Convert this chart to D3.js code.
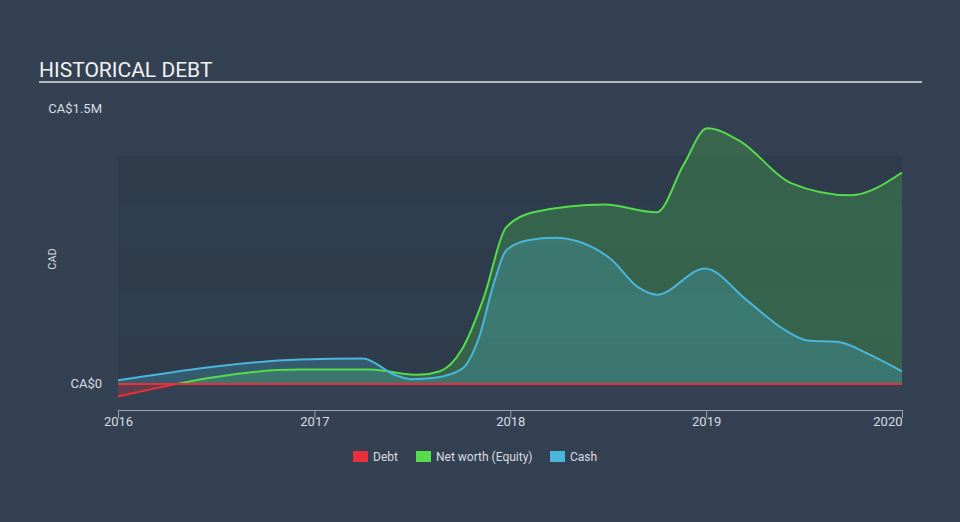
<!DOCTYPE html>
<html>

<head>
    <title>Historical Debt</title>
    <script src="https://d3js.org/d3.v7.min.js"></script>
    <style>
        body {
            margin: 0;
            background: #334152;
            font-family: Roboto, "Open Sans", sans-serif;
        }

        svg text {
            fill: #d9dde2;
        }
    </style>
</head>

<body>
    <div id="chart"></div>
    <script>
        // values in CA$ millions
        const debtDates = ["2016-01-01", "2020-01-01"];
        const debtValues = [0, 0];

        const equityDates = ["2016-01-01", "2016-12-05", "2017-04-14", "2017-07-13", "2017-08-23", "2017-10-03",
            "2017-11-13", "2017-12-24", "2018-02-13", "2018-06-26", "2018-10-01", "2018-11-20", "2019-01-03",
            "2019-03-05", "2019-06-08", "2019-09-27", "2020-01-01"];
        const equityValues = [-0.068, 0.079, 0.079, 0.05, 0.07, 0.19,
            0.476, 0.856, 0.94, 0.982, 0.94, 1.2, 1.40,
            1.33, 1.10, 1.033, 1.158];

        const cashDates = ["2016-01-01", "2016-12-05", "2017-04-01", "2017-06-02", "2017-07-03", "2017-08-13",
            "2017-10-03", "2017-11-02", "2017-12-03", "2017-12-24", "2018-02-03", "2018-03-25",
            "2018-07-05", "2018-08-27", "2018-10-01", "2018-12-30", "2019-03-18", "2019-05-29", "2019-07-09",
            "2019-09-07", "2019-10-29", "2020-01-01"];
        const cashValues = [0.02, 0.134, 0.14, 0.047, 0.026, 0.034,
            0.083, 0.24, 0.567, 0.73, 0.787, 0.80,
            0.69, 0.53, 0.489, 0.632, 0.458, 0.293, 0.238,
            0.229, 0.166, 0.069];

        const yearTicks = [2016, 2017, 2018, 2019, 2020];
        const bandValues = [0, 0.25, 0.5, 0.75, 1.0];
        const legendNames = ["Debt", "Net worth (Equity)", "Cash"];

        const colors = { debt: "#e8303a", equity: "#55dc4c", cash: "#4ab6db" };

        const width = 960, height = 522;
        const parse = d3.timeParse("%Y-%m-%d");
        const zip = (dates, values) => dates.map((d, i) => ({ date: parse(d), value: values[i] }));
        const debt = zip(debtDates, debtValues);
        const equity = zip(equityDates, equityValues);
        const cash = zip(cashDates, cashValues);

        const svg = d3.select("#chart")
            .append("svg")
            .attr("width", width)
            .attr("height", height);

        const x = d3.scaleTime()
            .domain([new Date(2016, 0, 1), new Date(2020, 0, 1)])
            .range([118, 902]);
        const y = d3.scaleLinear()
            .domain([0, 1.5])
            .range([384, 110]);

        // title
        svg.append("text")
            .attr("x", 39).attr("y", 77)
            .style("font-size", "21px")
            .style("fill", "#f2f2f2")
            .text("HISTORICAL DEBT");
        svg.append("line")
            .attr("x1", 39).attr("x2", 922)
            .attr("y1", 82).attr("y2", 82)
            .attr("stroke", "#b4b9bf").attr("stroke-width", 2);

        // striped background bands
        svg.selectAll("rect.band")
            .data(bandValues)
            .join("rect")
            .attr("class", "band")
            .attr("x", x.range()[0])
            .attr("width", x.range()[1] - x.range()[0])
            .attr("y", d => y(d + 0.25))
            .attr("height", d => y(d) - y(d + 0.25))
            .attr("fill", "#1c2634")
            .attr("fill-opacity", (d, i) => i % 2 === 0 ? 0.2 : 0.12);

        // clip paths for positive / negative equity
        const defs = svg.append("defs");
        defs.append("clipPath").attr("id", "above")
            .append("rect").attr("x", 0).attr("y", 0).attr("width", width).attr("height", y(0));
        defs.append("clipPath").attr("id", "below")
            .append("rect").attr("x", 0).attr("y", y(0)).attr("width", width).attr("height", height - y(0));

        const curve = d3.curveMonotoneX;
        const area = d3.area().x(d => x(d.date)).y0(y(0)).y1(d => y(d.value)).curve(curve);
        const line = d3.line().x(d => x(d.date)).y(d => y(d.value)).curve(curve);

        // net worth area
        svg.append("path").datum(equity)
            .attr("d", area).attr("clip-path", "url(#above)")
            .attr("fill", colors.equity).attr("fill-opacity", 0.24);
        svg.append("path").datum(equity)
            .attr("d", area).attr("clip-path", "url(#below)")
            .attr("fill", colors.debt).attr("fill-opacity", 0.25);

        // cash area
        svg.append("path").datum(cash)
            .attr("d", area)
            .attr("fill", colors.cash).attr("fill-opacity", 0.25);

        // lines
        svg.append("path").datum(equity)
            .attr("d", line).attr("clip-path", "url(#above)")
            .attr("fill", "none").attr("stroke", colors.equity).attr("stroke-width", 2);
        svg.append("path").datum(equity)
            .attr("d", line).attr("clip-path", "url(#below)")
            .attr("fill", "none").attr("stroke", colors.debt).attr("stroke-width", 2);
        svg.append("path").datum(cash)
            .attr("d", line)
            .attr("fill", "none").attr("stroke", colors.cash).attr("stroke-width", 2);
        svg.append("path").datum(debt)
            .attr("d", line)
            .attr("fill", "none").attr("stroke", colors.debt).attr("stroke-width", 2);

        // y labels
        svg.append("text")
            .attr("x", 102).attr("y", 113)
            .attr("text-anchor", "end")
            .style("font-size", "13px")
            .text("CA$1.5M");
        svg.append("text")
            .attr("x", 102).attr("y", 388)
            .attr("text-anchor", "end")
            .style("font-size", "13px")
            .text("CA$0");
        svg.append("text")
            .attr("transform", "translate(56,259) rotate(-90)")
            .attr("text-anchor", "middle")
            .style("font-size", "11px")
            .text("CAD");

        // x axis
        const xAxis = svg.append("g")
            .attr("transform", "translate(0,410)")
            .call(d3.axisBottom(x)
                .tickValues(yearTicks.map(yr => new Date(yr, 0, 1)))
                .tickFormat(d3.timeFormat("%Y"))
                .tickSize(8)
                .tickSizeOuter(0));
        xAxis.select(".domain").attr("stroke", "#9aa3ad").attr("d", `M${x.range()[0]},0.5H${x.range()[1]}`);
        xAxis.selectAll(".tick line").attr("stroke", "#9aa3ad").attr("y1", 0).attr("y2", 8);
        xAxis.selectAll(".tick text")
            .attr("y", 7)
            .attr("dy", "0.71em")
            .style("font-size", "13px")
            .style("font-family", "Roboto, sans-serif")
            .style("fill", "#d9dde2")
            .attr("text-anchor", (d, i) => i === yearTicks.length - 1 ? "end" : "middle");

        // legend
        const legendX = [353, 416, 550];
        const legendColors = [colors.debt, colors.equity, colors.cash];
        const legend = svg.selectAll("g.legend")
            .data(legendNames)
            .join("g")
            .attr("class", "legend")
            .attr("transform", (d, i) => `translate(${legendX[i]},451)`);
        legend.append("rect")
            .attr("width", 15).attr("height", 11)
            .attr("fill", (d, i) => legendColors[i]);
        legend.append("text")
            .attr("x", 20).attr("y", 10)
            .style("font-size", "12px")
            .text(d => d);
    </script>

</body>

</html>
